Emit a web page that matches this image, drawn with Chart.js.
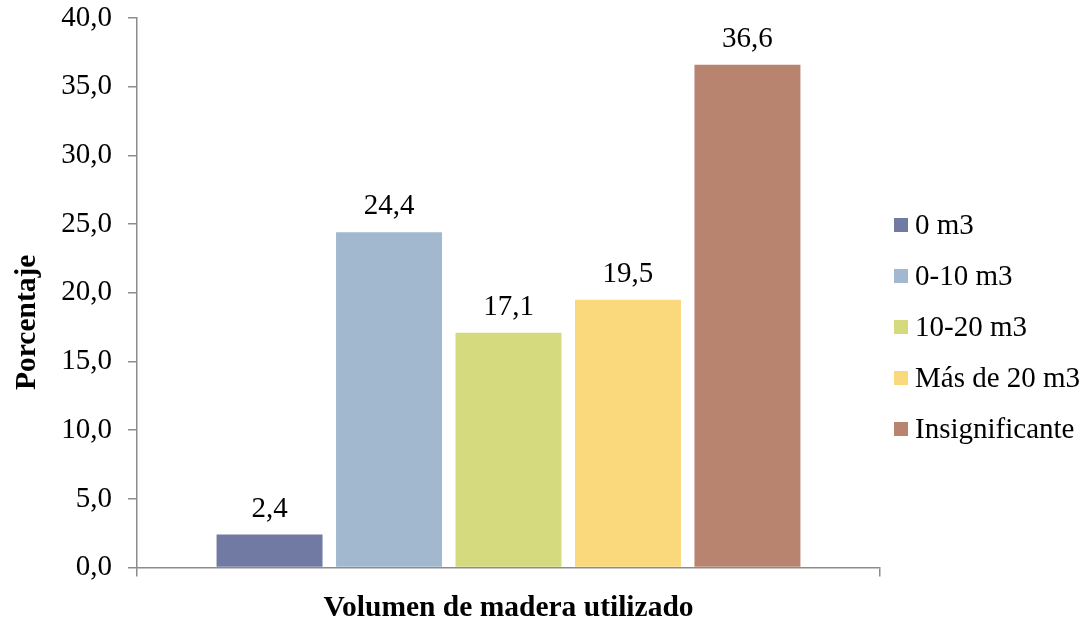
<!DOCTYPE html>
<html>
<head>
<meta charset="utf-8">
<script src="https://cdn.jsdelivr.net/npm/chart.js@4"></script>
<style>
  html, body { margin: 0; padding: 0; background: #fff; }
  #wrap { width: 1086px; height: 626px; }
</style>
</head>
<body>
<div id="wrap"><canvas id="myChart" width="1086" height="626"></canvas></div>
<script>
// data
var categorias = ['0 m3', '0-10 m3', '10-20 m3', 'Más de 20 m3', 'Insignificante'];
var porcentajes = [2.4, 24.4, 17.1, 19.5, 36.6];
var colores = ['#717AA3', '#A2B8CF', '#D5DA7E', '#F9D97B', '#B8846F'];
var ejeY = { min: 0, max: 40, paso: 5 };

var fuente = "'Liberation Serif', 'Times New Roman', serif";
var gris = '#8c8c8c';

function coma(v) {
    return v.toFixed(1).replace('.', ',');
}

var datasets = [];
categorias.forEach(function (cat, i) {
    datasets.push({
        label: cat,
        data: [porcentajes[i]],
        backgroundColor: colores[i],
        borderWidth: 0,
        categoryPercentage: 0.804,
        barPercentage: 0.887
    });
});

// value above each bar
var etiquetas = {
    id: 'etiquetas',
    afterDatasetsDraw: function (chart) {
        var c = chart.ctx;
        c.save();
        c.font = '29px ' + fuente;
        c.fillStyle = '#000';
        c.textAlign = 'center';
        c.textBaseline = 'alphabetic';
        chart.data.datasets.forEach(function (ds, i) {
            chart.getDatasetMeta(i).data.forEach(function (bar, j) {
                c.fillText(coma(ds.data[j]), bar.x, bar.y - 18);
            });
        });
        c.restore();
    }
};

// legend on the right, one row per series
var leyenda = {
    id: 'leyenda',
    afterDraw: function (chart) {
        var c = chart.ctx;
        var x = 894, y = 225;
        c.save();
        c.font = '29px ' + fuente;
        c.textBaseline = 'middle';
        c.textAlign = 'left';
        chart.data.datasets.forEach(function (ds) {
            c.fillStyle = ds.backgroundColor;
            c.fillRect(x, y - 7, 14, 14);
            c.fillStyle = '#000';
            c.fillText(ds.label, x + 21, y + 1);
            y += 51;
        });
        c.restore();
    }
};

var ctx = document.getElementById('myChart').getContext('2d');
var chart = new Chart(ctx, {
    type: 'bar',
    data: {
        labels: [''],
        datasets: datasets
    },
    options: {
        responsive: false,
        animation: false,
        events: [],
        layout: { padding: { top: 18, right: 206, bottom: 0, left: 0 } },
        plugins: {
            legend: { display: false },
            tooltip: { enabled: false }
        },
        scales: {
            x: {
                grid: { display: true, drawOnChartArea: false, drawTicks: true, tickLength: 9, color: gris, lineWidth: 1.5, offset: true },
                border: { display: true, color: gris, width: 1.5 },
                ticks: { display: false },
                title: {
                    display: true,
                    text: 'Volumen de madera utilizado',
                    color: '#000',
                    font: { family: fuente, size: 29.5, weight: 'bold' },
                    padding: { top: 14, bottom: 0 }
                }
            },
            y: {
                min: ejeY.min,
                max: ejeY.max,
                afterFit: function (scale) {
                    scale.width = 137;
                    scale.paddingTop = 0;
                    scale.paddingBottom = 0;
                },
                grid: { display: true, drawOnChartArea: false, drawTicks: true, tickLength: 9, color: gris, lineWidth: 1.5 },
                border: { display: true, color: gris, width: 1.5 },
                ticks: {
                    stepSize: ejeY.paso,
                    padding: 16,
                    color: '#000',
                    font: { family: fuente, size: 29 },
                    callback: function (v) { return coma(v); }
                },
                title: {
                    display: true,
                    // trailing spaces push the word a little lower, like the original
                    text: 'Porcentaje        ',
                    color: '#000',
                    font: { family: fuente, size: 29.5, weight: 'bold' },
                    padding: { top: 10, bottom: 0 }
                }
            }
        }
    },
    plugins: [etiquetas, leyenda]
});
</script>
</body>
</html>
